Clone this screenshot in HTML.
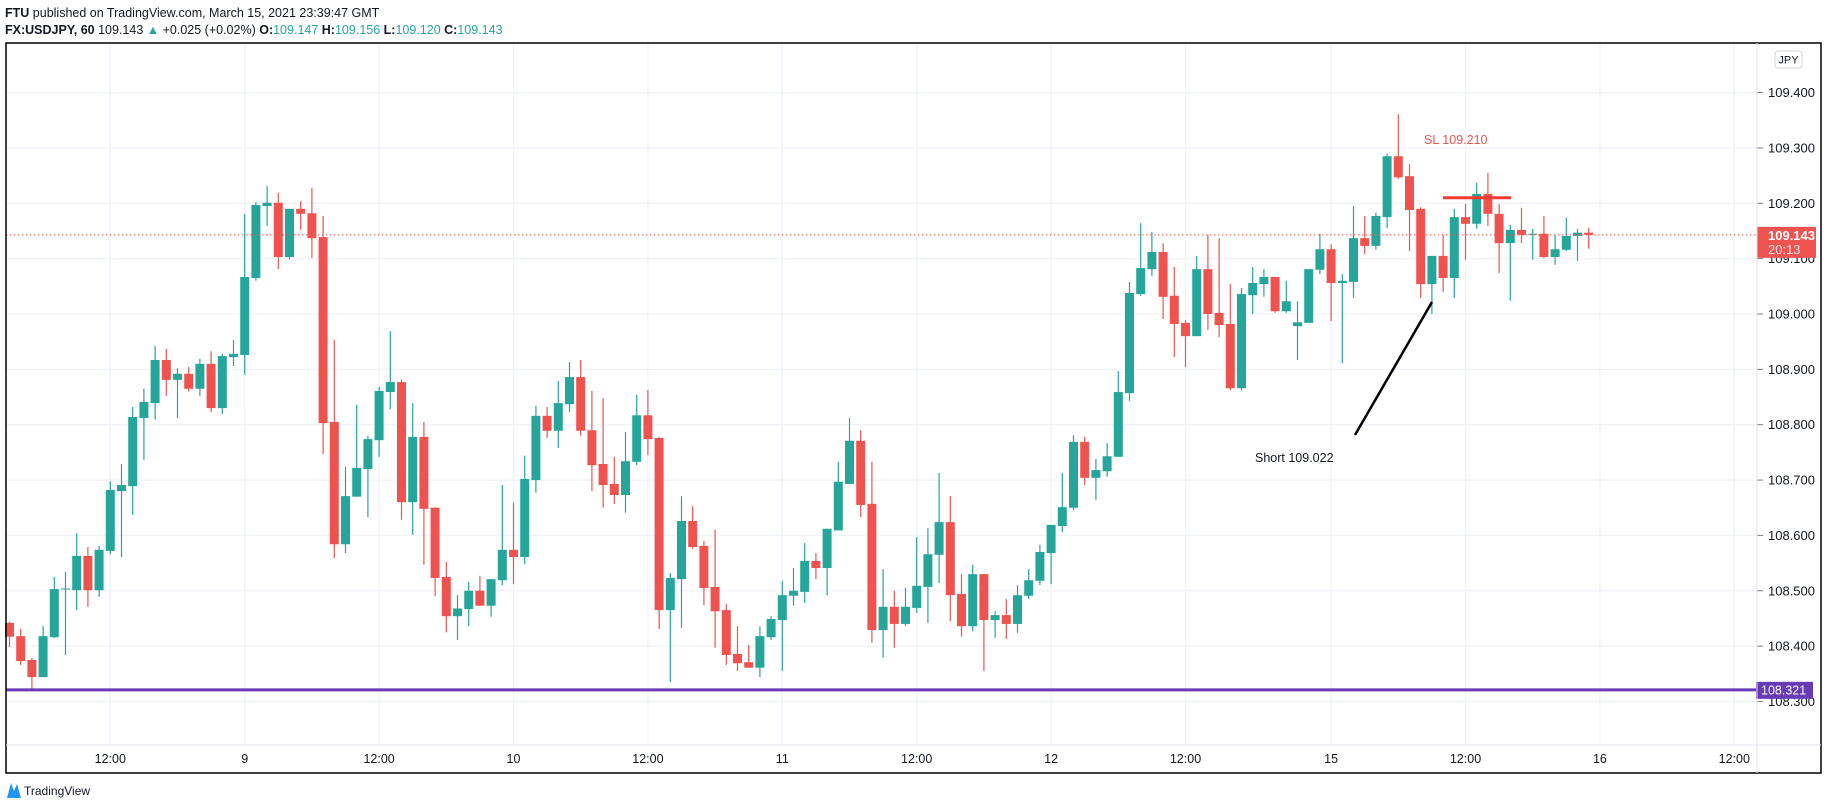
<!DOCTYPE html>
<html><head><meta charset="utf-8"><style>
html,body{margin:0;padding:0;background:#fff;width:1828px;height:810px;overflow:hidden}
svg{display:block;font-family:"Liberation Sans",sans-serif}
</style></head><body>
<svg id="chart" width="1828" height="810" viewBox="0 0 1828 810">
<g>
<text x="5" y="17" font-size="12.5" fill="#131722"><tspan font-weight="bold">FTU</tspan> published on TradingView.com, March 15, 2021 23:39:47 GMT</text>
<text x="5" y="34" font-size="12.5" fill="#131722"><tspan font-weight="bold">FX:USDJPY, 60</tspan> 109.143 <tspan fill="#26a69a">▲</tspan> +0.025 (+0.02%) <tspan font-weight="bold">O:</tspan><tspan fill="#26a69a">109.147</tspan> <tspan font-weight="bold">H:</tspan><tspan fill="#26a69a">109.156</tspan> <tspan font-weight="bold">L:</tspan><tspan fill="#26a69a">109.120</tspan> <tspan font-weight="bold">C:</tspan><tspan fill="#26a69a">109.143</tspan></text>
</g>
<g id="grid"></g>
<g id="candles"></g>
<g id="overlay"></g>
<g id="axes"></g>
<rect x="6" y="43" width="1815" height="730" fill="none" stroke="#000" stroke-width="1.5"/>
<line x1="1757" y1="43" x2="1757" y2="773" stroke="#e0e3eb"/>
<line x1="6" y1="745" x2="1821" y2="745" stroke="#e0e3eb"/>
<rect x="1775" y="51" width="27" height="17" rx="3" fill="#fff" stroke="#d1d4dc"/>
<text x="1788.5" y="63.5" font-size="11" text-anchor="middle" fill="#131722">JPY</text>
<g>
<path d="M7 798 L11 783 L14 791 L17 784 L21 798 Z" fill="#2196f3"/>
<text x="24" y="795" font-size="12" fill="#131722">TradingView</text>
</g>
</svg>
<script>
const opens = [108.442,108.418,108.375,108.344,108.416,108.503,108.501,108.563,108.501,108.572,
108.680,108.689,108.812,108.839,108.917,108.881,108.892,108.865,108.910,108.830,
108.922,108.926,109.065,109.195,109.201,109.103,109.190,109.182,109.139,108.805,
108.584,108.670,108.720,108.772,108.859,108.877,108.660,108.778,108.650,108.525,
108.454,108.467,108.500,108.473,108.519,108.574,108.561,108.700,108.816,108.789,
108.837,108.886,108.790,108.729,108.693,108.673,108.733,108.817,108.776,108.465,
108.521,108.626,108.581,108.507,108.465,108.386,108.371,108.361,108.416,108.447,
108.491,108.498,108.554,108.541,108.609,108.693,108.771,108.657,108.429,108.471,
108.440,108.469,108.507,108.565,108.624,108.494,108.436,108.530,108.447,108.456,
108.440,108.491,108.518,108.568,108.617,108.650,108.769,108.704,108.716,108.742,
108.857,109.036,109.081,109.112,109.033,108.984,108.960,109.081,109.002,108.982,
108.866,109.034,109.054,109.067,109.005,108.978,108.984,109.080,109.117,109.056,
109.058,109.137,109.123,109.175,109.285,109.249,109.190,109.054,109.105,109.065,
109.175,109.163,109.217,109.181,109.128,109.152,109.143,109.145,109.103,109.116,
109.141,109.147];
const highs = [108.444,108.431,108.379,108.436,108.525,108.534,108.604,108.579,108.581,108.698,
108.729,108.832,108.865,108.942,108.937,108.902,108.904,108.919,108.933,108.928,
108.953,109.181,109.202,109.231,109.219,109.190,109.204,109.228,109.177,108.953,
108.724,108.836,108.780,108.868,108.969,108.882,108.839,108.805,108.651,108.552,
108.492,108.516,108.527,108.521,108.691,108.659,108.744,108.834,108.832,108.879,
108.913,108.917,108.861,108.848,108.742,108.787,108.854,108.863,108.778,108.532,
108.671,108.653,108.590,108.610,108.476,108.436,108.402,108.436,108.454,108.518,
108.541,108.586,108.568,108.612,108.733,108.812,108.790,108.733,108.539,108.500,
108.505,108.597,108.613,108.713,108.671,108.530,108.547,108.530,108.463,108.485,
108.510,108.539,108.583,108.619,108.713,108.781,108.778,108.738,108.767,108.897,
109.058,109.164,109.148,109.128,109.085,108.989,109.105,109.143,109.137,109.054,
109.047,109.085,109.081,109.067,109.060,109.023,109.081,109.145,109.126,109.072,
109.195,109.177,109.183,109.290,109.361,109.271,109.193,109.105,109.143,109.190,
109.199,109.237,109.255,109.199,109.161,109.192,109.154,109.177,109.143,109.174,
109.154,109.156];
const lows = [108.398,108.366,108.323,108.344,108.415,108.384,108.465,108.471,108.489,108.566,
108.561,108.637,108.736,108.809,108.852,108.812,108.860,108.852,108.823,108.819,
108.906,108.890,109.060,109.159,109.081,109.099,109.152,109.101,108.747,108.559,
108.568,108.670,108.633,108.742,108.828,108.628,108.601,108.547,108.490,108.425,
108.411,108.436,108.473,108.453,108.510,108.512,108.548,108.677,108.776,108.758,
108.823,108.780,108.680,108.650,108.657,108.641,108.727,108.745,108.431,108.335,
108.433,108.576,108.474,108.397,108.366,108.355,108.361,108.344,108.411,108.355,
108.473,108.478,108.521,108.492,108.609,108.693,108.633,108.406,108.379,108.397,
108.436,108.460,108.442,108.514,108.445,108.417,108.427,108.355,108.415,108.413,
108.424,108.485,108.510,108.512,108.606,108.646,108.691,108.664,108.706,108.742,
108.843,109.033,109.069,108.991,108.922,108.904,108.960,108.971,108.958,108.862,
108.862,109.000,109.031,109.002,109.002,108.917,108.984,109.072,108.987,108.911,
109.029,109.108,109.116,109.155,109.244,109.114,109.029,109.000,109.040,109.029,
109.098,109.154,109.159,109.074,109.024,109.128,109.098,109.101,109.089,109.114,
109.096,109.118];
const closes = [108.417,108.373,108.344,108.418,108.503,108.504,108.563,108.501,108.574,108.682,
108.691,108.814,108.841,108.917,108.881,108.892,108.865,108.910,108.830,108.924,
108.928,109.067,109.197,109.201,109.103,109.190,109.181,109.137,108.803,108.584,
108.671,108.722,108.774,108.861,108.877,108.660,108.778,108.648,108.523,108.454,
108.468,108.500,108.473,108.521,108.574,108.561,108.702,108.816,108.789,108.839,
108.886,108.789,108.727,108.691,108.673,108.734,108.817,108.774,108.465,108.523,
108.626,108.579,108.505,108.463,108.384,108.369,108.361,108.418,108.449,108.492,
108.500,108.554,108.541,108.612,108.697,108.771,108.655,108.429,108.471,108.440,
108.471,108.509,108.566,108.624,108.492,108.436,108.530,108.447,108.456,108.440,
108.492,108.519,108.570,108.619,108.651,108.769,108.704,108.718,108.743,108.859,
109.038,109.083,109.112,109.031,108.982,108.960,109.081,109.000,108.980,108.866,
109.036,109.056,109.067,109.005,109.023,108.985,109.081,109.117,109.056,109.060,
109.137,109.123,109.177,109.285,109.247,109.188,109.054,109.105,109.065,109.175,
109.163,109.217,109.181,109.128,109.152,109.143,109.145,109.103,109.117,109.141,
109.147,109.143];
const priceTicks = [109.4,109.3,109.2,109.1,109.0,108.9,108.8,108.7,108.6,108.5,108.4,108.3];
const timeLabels = ["12:00","9","12:00","10","12:00","11","12:00","12","12:00","15","12:00","16","12:00"];
const timeLabelBars = [9,21,33,45,57,69,81,93,105,118,130,142,154];
const lastPrice = 109.143;
const supportPrice = 108.321;
const stopLossPrice = 109.210;
const shortPrice = 109.022;

const NS = "http://www.w3.org/2000/svg";
function yScale(p){ return 203.3 + (109.2 - p) * 553.5; }
function xScale(i){ return 9.5 + 11.2 * i; }
function mk(tag, attrs, parent){
  const e = document.createElementNS(NS, tag);
  for (const k in attrs) e.setAttribute(k, attrs[k]);
  parent.appendChild(e);
  return e;
}
const grid = document.getElementById("grid");
const candles = document.getElementById("candles");
const overlay = document.getElementById("overlay");
const axes = document.getElementById("axes");

priceTicks.forEach(function(p){
  const y = yScale(p);
  const gl = mk("line", {x1:6, x2:1757, y1:y, y2:y, stroke:"#f0f3fa", "stroke-width":1.3}, grid);
  
  
  const tk = mk("line", {x1:1757, x2:1763, y1:y, y2:y, stroke:"#787b86"}, axes);
  
  
  const t = mk("text", {x:1768, y:y+4.5, "font-size":13, fill:"#131722"}, axes);
  t.textContent = p.toFixed(3);
  
  
});
timeLabelBars.forEach(function(b, k){
  const x = xScale(b);
  const gl = mk("line", {x1:x, x2:x, y1:43, y2:745, stroke:"#f0f3fa", "stroke-width":1.3}, grid);
  
  
  const t = mk("text", {x:x, y:763, "font-size":12.5, fill:"#131722", "text-anchor":"middle"}, axes);
  t.textContent = timeLabels[k];
  
  
});

for (let i = 0; i < opens.length; i++){
  const up = closes[i] >= opens[i];
  const col = up ? "#26a69a" : "#ef5350";
  const x = xScale(i);
  const g = mk("g", {}, candles);
  
  
  const w = mk("line", {x1:x, x2:x, y1:yScale(highs[i]), y2:yScale(lows[i]), stroke:col, "stroke-width":1.2}, g);
  
  
  const top = yScale(Math.max(opens[i], closes[i]));
  const bot = yScale(Math.min(opens[i], closes[i]));
  const r = mk("rect", {x:x-4.5, y:top, width:9, height:Math.max(1, bot-top), fill:col}, g);
  
  
}

// last price line
const ly = yScale(lastPrice);
const lpl = mk("line", {x1:6, x2:1757, y1:ly, y2:ly, stroke:"#ef5350", "stroke-width":1, "stroke-dasharray":"1.5 2.5"}, overlay);


// support line
const sy = yScale(supportPrice);
const sl = mk("line", {x1:6, x2:1757, y1:sy, y2:sy, stroke:"#673ab7", "stroke-width":3}, overlay);


// stop loss
const sly = yScale(stopLossPrice);
const slLine = mk("line", {x1:1443, x2:1511, y1:sly, y2:sly, stroke:"#f23a30", "stroke-width":3}, overlay);


const slText = mk("text", {x:1424, y:144, "font-size":12.5, fill:"#ef5350"}, overlay);
slText.textContent = "SL " + stopLossPrice.toFixed(3);


// short arrow line
const shl = mk("line", {x1:1355, y1:435, x2:1432, y2:302, stroke:"#000", "stroke-width":2.5}, overlay);


const shText = mk("text", {x:1255, y:462, "font-size":12.5, fill:"#131722"}, overlay);
shText.textContent = "Short " + shortPrice.toFixed(3);



// axis labels
const lpBox = mk("rect", {x:1757, y:ly-8, width:59, height:31, fill:"#ef5350"}, axes);


const lpT = mk("text", {x:1768, y:ly+5, "font-size":13, fill:"#fff", "font-weight":"bold"}, axes);
lpT.textContent = lastPrice.toFixed(3);


const cdT = mk("text", {x:1768, y:ly+19, "font-size":13, fill:"#fde0df"}, axes);
cdT.textContent = "20:13";


const spBox = mk("rect", {x:1756, y:sy-8, width:57, height:17, fill:"#673ab7"}, axes);


const spT = mk("text", {x:1761, y:sy+4.5, "font-size":12.5, fill:"#fff"}, axes);
spT.textContent = supportPrice.toFixed(3);


</script>
</body></html>
